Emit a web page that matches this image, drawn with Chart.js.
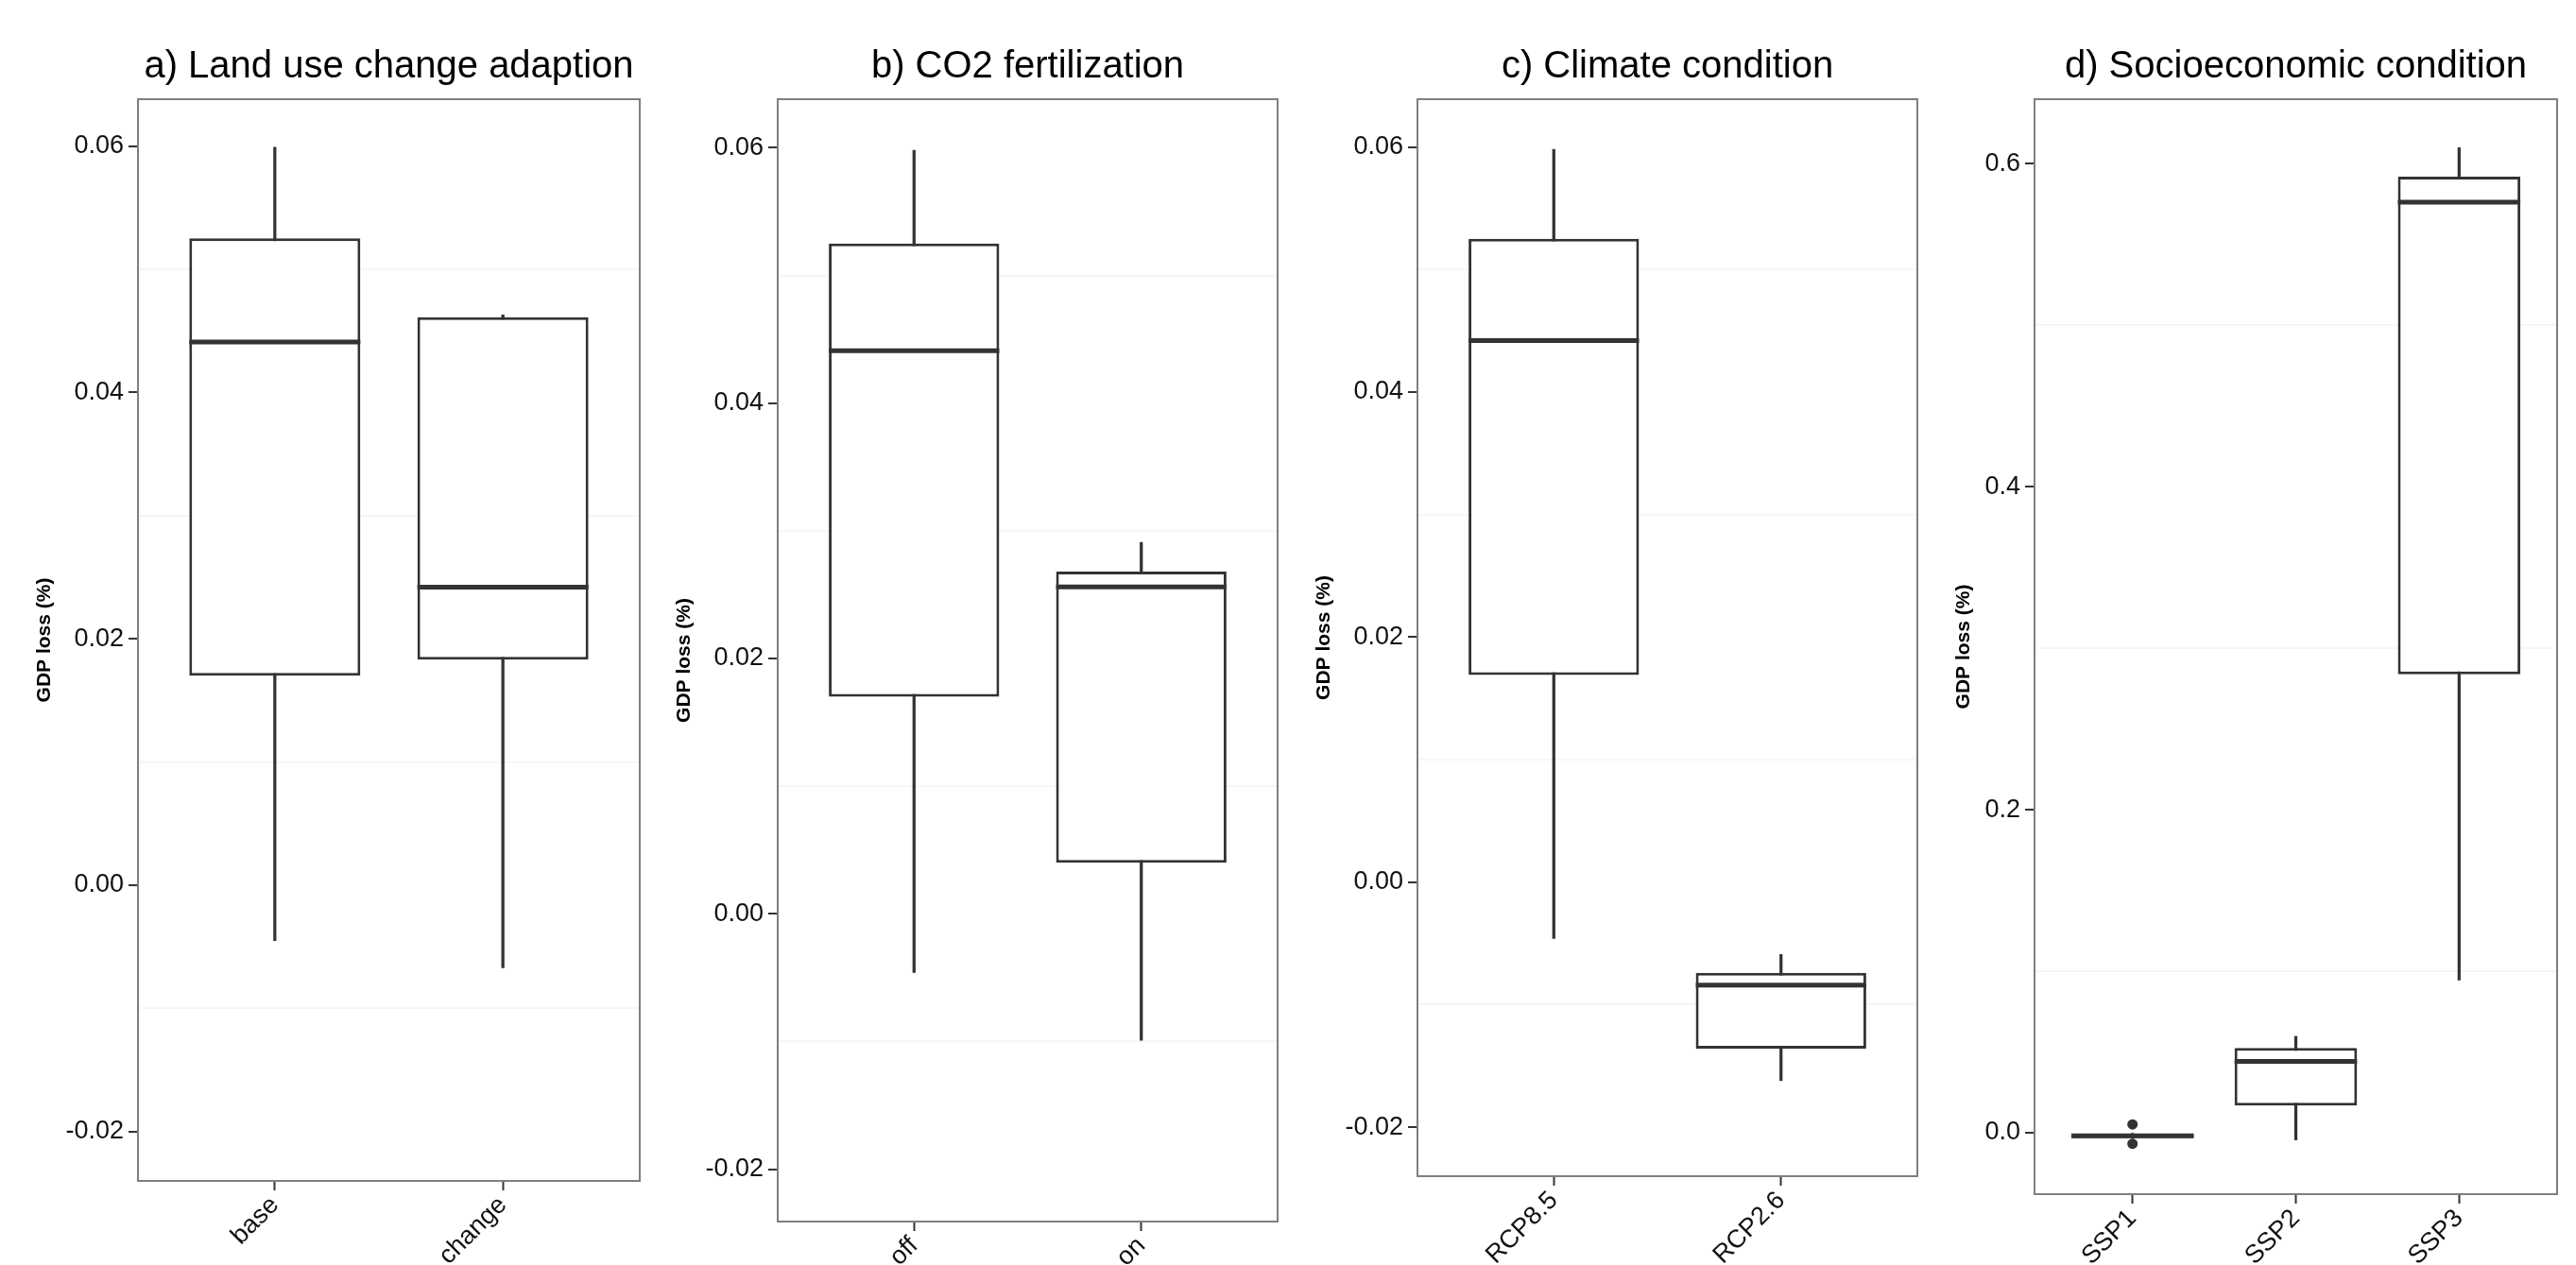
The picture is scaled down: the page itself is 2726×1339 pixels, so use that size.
<!DOCTYPE html>
<html>
<head>
<meta charset="utf-8">
<title>GDP loss by factor</title>
<script src="https://cdn.jsdelivr.net/npm/chart.js@4.4.1/dist/chart.umd.min.js"></script>
<style>
  html, body { margin: 0; padding: 0; background: #fff; overflow: hidden; }
  body { width: 2726px; height: 1339px; position: relative; }
  canvas { position: absolute; top: 0; }
</style>
</head>
<body>
<canvas id="panelA"></canvas>
<canvas id="panelB"></canvas>
<canvas id="panelC"></canvas>
<canvas id="panelD"></canvas>
<script>
// a) land use change adaption
const landLabels = ['base', 'change'];
const landMin = [-0.0045, -0.0067];
const landQ1 = [0.0170, 0.0183];
const landMed = [0.0441, 0.0242];
const landQ3 = [0.0525, 0.0461];
const landMax = [0.0599, 0.0463];

// b) CO2 fertilization
const co2Labels = ['off', 'on'];
const co2Min = [-0.0046, -0.0099];
const co2Q1 = [0.0170, 0.0040];
const co2Med = [0.0441, 0.0256];
const co2Q3 = [0.0525, 0.0268];
const co2Max = [0.0598, 0.0291];

// c) climate condition
const climLabels = ['RCP8.5', 'RCP2.6'];
const climMin = [-0.0046, -0.0162];
const climQ1 = [0.0169, -0.0136];
const climMed = [0.0442, -0.0084];
const climQ3 = [0.0525, -0.0074];
const climMax = [0.0598, -0.0059];

// d) socioeconomic condition
const sspLabels = ['SSP1', 'SSP2', 'SSP3'];
const sspMin = [-0.0036, -0.0044, 0.0946];
const sspQ1 = [-0.0033, 0.0169, 0.2839];
const sspMed = [-0.0019, 0.0442, 0.5763];
const sspQ3 = [-0.0005, 0.0525, 0.5921];
const sspMax = [-0.0003, 0.0597, 0.6100];
const sspOutlierCats = ['SSP1', 'SSP1'];
const sspOutlierValues = [0.0052, -0.0068];

// y ticks
const gdpTicks = [-0.02, 0, 0.02, 0.04, 0.06];
const gdpTickLabels = ['-0.02', '0.00', '0.02', '0.04', '0.06'];
const gdpMinorTicks = [-0.01, 0.01, 0.03, 0.05];
const sspTicks = [0, 0.2, 0.4, 0.6];
const sspTickLabels = ['0.0', '0.2', '0.4', '0.6'];
const sspMinorTicks = [0.1, 0.3, 0.5];

const PAGE_H = 1339;
const AXIS_W = 146;
const RIGHT_PAD = 10;
const BOX_WIDTH = 0.75;
const INK = '#333333';
const TEXT = '#111111';
const FONT = "'Liberation Sans', Arial, Helvetica, sans-serif";

const panels = [
  {
    id: 'panelA', title: 'a) Land use change adaption',
    labels: landLabels, min: landMin, q1: landQ1, med: landMed, q3: landQ3, max: landMax,
    outCats: [], outValues: [],
    ticks: gdpTicks, tickLabels: gdpTickLabels, minor: gdpMinorTicks,
    yMin: -0.024, yMax: 0.0638,
    box: { left: 146, right: 677, bottom: 1250 }, yTitlePad: 35,
  },
  {
    id: 'panelB', title: 'b) CO2 fertilization',
    labels: co2Labels, min: co2Min, q1: co2Q1, med: co2Med, q3: co2Q3, max: co2Max,
    outCats: [], outValues: [],
    ticks: gdpTicks, tickLabels: gdpTickLabels, minor: gdpMinorTicks,
    yMin: -0.0241, yMax: 0.0638,
    box: { left: 823, right: 1352, bottom: 1293 }, yTitlePad: 35,
  },
  {
    id: 'panelC', title: 'c) Climate condition',
    labels: climLabels, min: climMin, q1: climQ1, med: climMed, q3: climQ3, max: climMax,
    outCats: [], outValues: [],
    ticks: gdpTicks, tickLabels: gdpTickLabels, minor: gdpMinorTicks,
    yMin: -0.024, yMax: 0.0639,
    box: { left: 1500, right: 2029, bottom: 1245 }, yTitlePad: 35,
  },
  {
    id: 'panelD', title: 'd) Socioeconomic condition',
    labels: sspLabels, min: sspMin, q1: sspQ1, med: sspMed, q3: sspQ3, max: sspMax,
    outCats: sspOutlierCats, outValues: sspOutlierValues,
    ticks: sspTicks, tickLabels: sspTickLabels, minor: sspMinorTicks,
    yMin: -0.038, yMax: 0.640,
    box: { left: 2153, right: 2706, bottom: 1264 }, yTitlePad: 59,
  },
];

const panelFrame = {
  id: 'panelFrame',
  afterDatasetsDraw(chart) {
    const { ctx, chartArea: a } = chart;
    ctx.save();
    ctx.strokeStyle = '#7f7f7f';
    ctx.lineWidth = 2;
    ctx.strokeRect(a.left, a.top, a.right - a.left, a.bottom - a.top);
    ctx.restore();
  },
};

function halfBox(chart) {
  const xs = chart.scales.x;
  return Math.abs(xs.getPixelForValue(1 + BOX_WIDTH / 2) - xs.getPixelForValue(1));
}

function buildPanel(p) {
  const canvas = document.getElementById(p.id);
  const left = p.box.left - AXIS_W;
  const width = p.box.right - left + RIGHT_PAD;
  canvas.width = width;
  canvas.height = PAGE_H;
  canvas.style.left = left + 'px';
  canvas.style.width = width + 'px';
  canvas.style.height = PAGE_H + 'px';

  const xs = p.labels.map((_, i) => i + 1);
  const allTicks = [...p.ticks, ...p.minor].sort((a, b) => a - b);
  const isMinor = (v) => p.minor.some((m) => Math.abs(m - v) < 1e-9);

  new Chart(canvas, {
    type: 'bar',
    data: {
      datasets: [
        {
          type: 'bar',
          label: 'whisker',
          data: xs.map((x, i) => ({ x, y: [p.min[i], p.max[i]] })),
          backgroundColor: INK,
          borderWidth: 0,
          grouped: false,
          categoryPercentage: 1,
          barPercentage: 1,
          maxBarThickness: 2.6,
          order: 4,
        },
        {
          type: 'bar',
          label: 'box',
          data: xs.map((x, i) => ({ x, y: [p.q1[i], p.q3[i]] })),
          backgroundColor: '#ffffff',
          borderColor: INK,
          borderWidth: 3,
          borderSkipped: false,
          grouped: false,
          categoryPercentage: 1,
          barPercentage: BOX_WIDTH,
          order: 3,
        },
        {
          type: 'line',
          label: 'median',
          data: xs.map((x, i) => ({ x, y: p.med[i] })),
          showLine: false,
          pointStyle: 'line',
          pointBorderColor: INK,
          pointBorderWidth: 5,
          pointRadius: (c) => halfBox(c.chart),
          order: 2,
        },
        {
          type: 'line',
          label: 'outliers',
          data: p.outCats.map((cat, i) => ({ x: p.labels.indexOf(cat) + 1, y: p.outValues[i] })),
          showLine: false,
          pointStyle: 'circle',
          pointRadius: 5.5,
          pointBackgroundColor: INK,
          pointBorderWidth: 0,
          order: 1,
        },
      ],
    },
    options: {
      responsive: false,
      animation: false,
      events: [],
      layout: { padding: { left: 0, right: RIGHT_PAD, top: 0, bottom: 0 } },
      plugins: {
        legend: { display: false },
        tooltip: { enabled: false },
        title: {
          display: true,
          text: p.title,
          fullSize: false,
          color: '#000',
          font: { family: FONT, size: 40, weight: 'normal', lineHeight: 1.2 },
          padding: { top: 47, bottom: 10 },
        },
      },
      scales: {
        x: {
          type: 'linear',
          bounds: 'data',
          min: 0.4,
          max: p.labels.length + 0.6,
          offset: false,
          afterBuildTicks: (axis) => { axis.ticks = xs.map((v) => ({ value: v })); },
          afterFit: (axis) => { axis.height = PAGE_H - p.box.bottom; },
          ticks: {
            autoSkip: false,
            minRotation: 45,
            maxRotation: 45,
            padding: 0,
            color: TEXT,
            font: { family: FONT, size: 27 },
            callback: (v) => p.labels[v - 1] ?? '',
          },
          grid: {
            offset: false,
            drawOnChartArea: false,
            drawTicks: true,
            tickLength: 10,
            tickWidth: 2,
            tickColor: INK,
            color: 'rgba(0,0,0,0)',
          },
          border: { display: false },
        },
        y: {
          type: 'linear',
          bounds: 'data',
          beginAtZero: false,
          min: p.yMin,
          max: p.yMax,
          afterBuildTicks: (axis) => { axis.ticks = allTicks.map((v) => ({ value: v })); },
          afterFit: (axis) => { axis.width = AXIS_W; },
          ticks: {
            padding: 5,
            color: TEXT,
            font: { family: FONT, size: 27 },
            callback: (v) => {
              const k = p.ticks.findIndex((t) => Math.abs(t - v) < 1e-9);
              return k >= 0 ? p.tickLabels[k] : '';
            },
          },
          grid: {
            color: (c) => (c.tick && isMinor(c.tick.value) ? '#f6f6f6' : 'rgba(0,0,0,0)'),
            lineWidth: 2,
            tickLength: 10,
            tickWidth: 2,
            tickColor: (c) => (c.tick && isMinor(c.tick.value) ? 'rgba(0,0,0,0)' : INK),
          },
          border: { display: false },
          title: {
            display: true,
            text: 'GDP loss (%)',
            color: '#000',
            font: { family: FONT, size: 21, weight: 'bold' },
            padding: { top: p.yTitlePad, bottom: 0 },
          },
        },
      },
    },
    plugins: [panelFrame],
  });
}

panels.forEach(buildPanel);
</script>
</body>
</html>
